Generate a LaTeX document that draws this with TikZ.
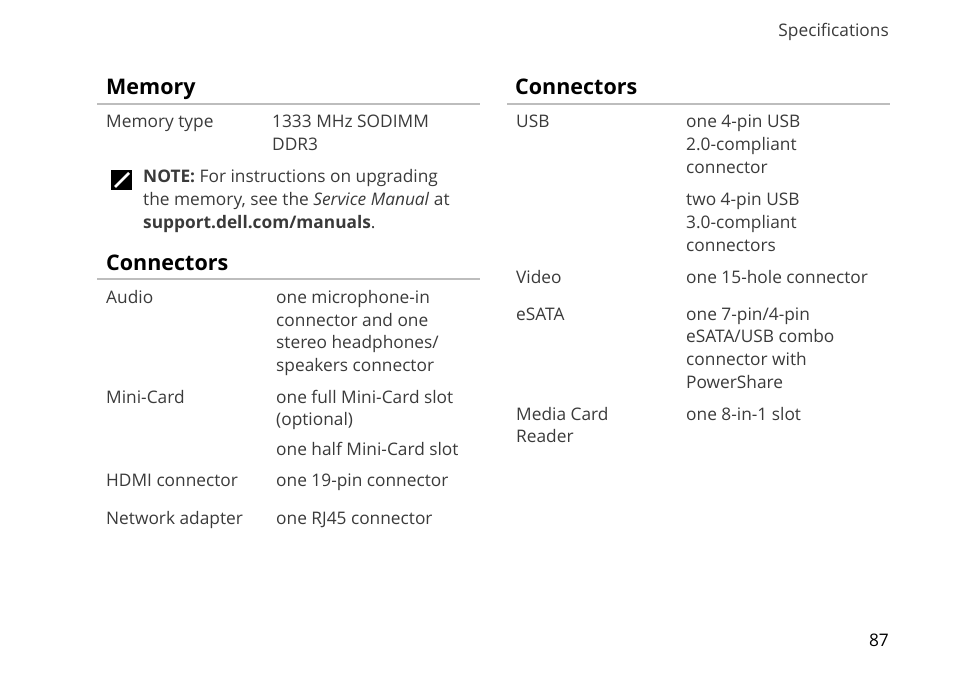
\documentclass[tikz,border=0pt]{standalone}
\usepackage{fontspec}
\setmainfont{Open Sans}
\newcommand{\bodyfont}{\fontsize{17.3}{20}\selectfont}
\newcommand{\headfont}{\fontsize{21.5}{24}\selectfont}
\definecolor{rulegray}{HTML}{BDBDBD}
\definecolor{textgray}{HTML}{3A3A3A}
\tikzset{
  cell/.style={anchor=base west, inner sep=0pt, font=\bodyfont, text=textgray},
  head/.style={anchor=base west, inner sep=0pt, font=\headfont\bfseries, text=black},
  headrule/.style={draw=rulegray, line width=2.2pt}
}
\begin{document}
\begin{tikzpicture}[x=1pt,y=-1pt]
\useasboundingbox (0,0) rectangle (954,677);
% page header and number
\node[cell, anchor=base east] (spec) at (889,37) {Specifications};
\node[cell, anchor=base east, text=black] (pageno) at (889,646) {87};
% memory
\node[head] (memhead) at (106,95) {Memory};
\draw[headrule] (97,104) -- (480,104);
\node[cell] (memlab) at (106,128) {Memory type};
\node[cell] (memval1) at (272,128) {1333 MHz SODIMM};
\node[cell] (memval2) at (272,150) {DDR3};
% note
\fill[black] (111,170) rectangle (132,190);
\draw[white, line width=2.6pt] (115,187) -- (129,173);
\draw[black, line width=0.8pt] (117.5,189.5) -- (131.5,175.5);
\node[cell] (note1) at (143,182) {\textbf{NOTE:} For instructions on upgrading};
\node[cell] (note2) at (143,205) {the memory, see the \textit{Service Manual} at};
\node[cell] (note3) at (143,228) {\textbf{support.dell.com/manuals}.};
% connectors left
\node[head] (conhead) at (106,270) {Connectors};
\draw[headrule] (97,279) -- (480,279);
\node[cell] (audio) at (106,303) {Audio};
\node[cell] (audio1) at (276,303) {one microphone-in};
\node[cell] (audio2) at (276,326) {connector and one};
\node[cell] (audio3) at (276,348) {stereo headphones/};
\node[cell] (audio4) at (276,371) {speakers connector};
\node[cell] (mini) at (106,403) {Mini-Card};
\node[cell] (mini1) at (276,403) {one full Mini-Card slot};
\node[cell] (mini2) at (276,425) {(optional)};
\node[cell] (mini3) at (276,455) {one half Mini-Card slot};
\node[cell] (hdmi) at (106,486) {HDMI connector};
\node[cell] (hdmi1) at (276,486) {one 19-pin connector};
\node[cell] (net) at (106,524) {Network adapter};
\node[cell] (net1) at (276,524) {one RJ45 connector};
% connectors right
\node[head] (conhead2) at (515,95) {Connectors};
\draw[headrule] (507,104) -- (890,104);
\node[cell] (usb) at (516,128) {USB};
\node[cell] (usb1) at (686,128) {one 4-pin USB};
\node[cell] (usb2) at (686,150) {2.0-compliant};
\node[cell] (usb3) at (686,173) {connector};
\node[cell] (usb4) at (686,205) {two 4-pin USB};
\node[cell] (usb5) at (686,228) {3.0-compliant};
\node[cell] (usb6) at (686,251) {connectors};
\node[cell] (video) at (516,283) {Video};
\node[cell] (video1) at (686,283) {one 15-hole connector};
\node[cell] (esata) at (516,320) {eSATA};
\node[cell] (esata1) at (686,320) {one 7-pin/4-pin};
\node[cell] (esata2) at (686,342) {eSATA/USB combo};
\node[cell] (esata3) at (686,365) {connector with};
\node[cell] (esata4) at (686,388) {PowerShare};
\node[cell] (media) at (516,420) {Media Card};
\node[cell] (media2) at (516,442) {Reader};
\node[cell] (media1) at (686,420) {one 8-in-1 slot};
\end{tikzpicture}
\end{document}
